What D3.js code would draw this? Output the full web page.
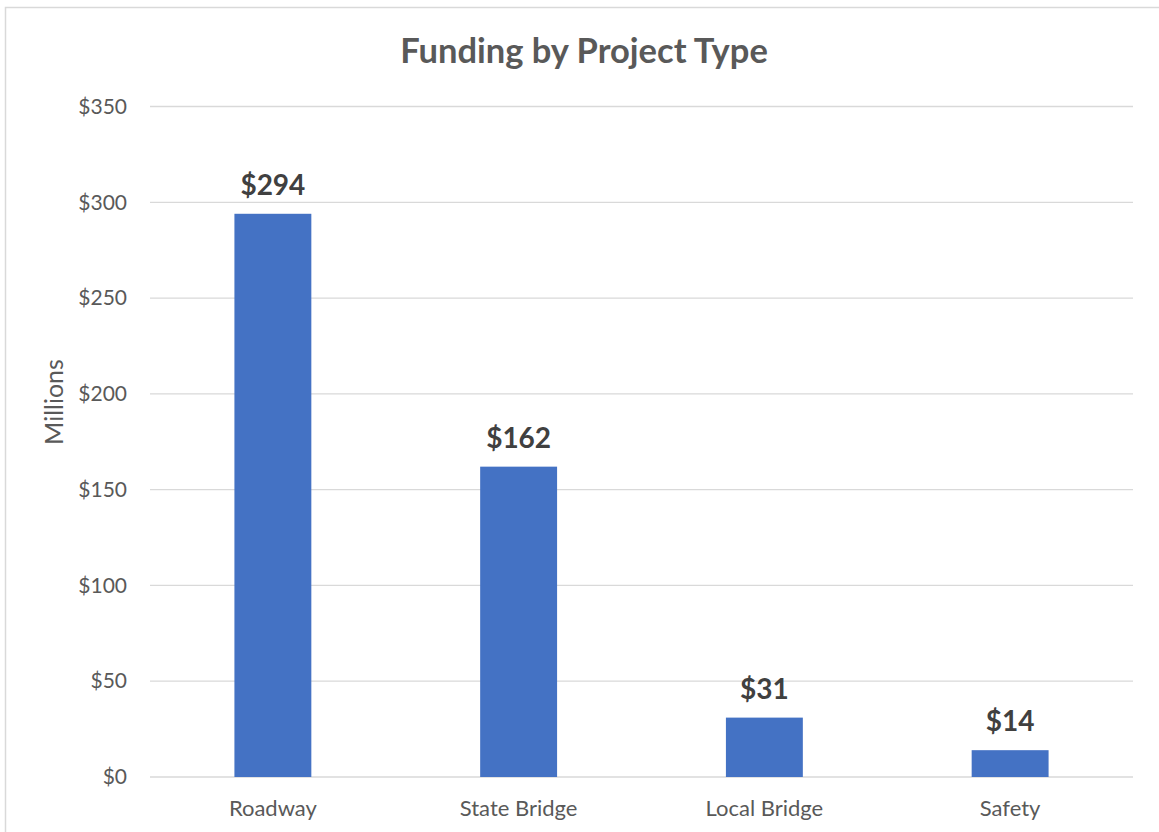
<!DOCTYPE html>
<html>
<head>
<meta charset="utf-8">
<script src="https://cdn.jsdelivr.net/npm/d3@7"></script>
<style>
  body { margin: 0; background: #fff; }
  text { font-family: Lato, "Open Sans", sans-serif; }
</style>
</head>
<body>
<svg width="1159" height="832"></svg>
<script>
const categories = ['Roadway', 'State Bridge', 'Local Bridge', 'Safety'];
const values = [294, 162, 31, 14];
const yTicks = [0, 50, 100, 150, 200, 250, 300, 350];

const svg = d3.select('svg');
const width = +svg.attr('width');
const height = +svg.attr('height');

const margin = {left: 150, right: 26, top: 106.5, bottom: 55};

// chart area border
svg.append('rect')
  .attr('x', 5.5).attr('y', 7.5)
  .attr('width', 1160).attr('height', 830)
  .attr('fill', 'none')
  .attr('stroke', '#d9d9d9')
  .attr('stroke-width', 1.5);

const x = d3.scaleBand()
  .domain(categories)
  .range([margin.left, width - margin.right])
  .paddingInner(0.687)
  .paddingOuter(0.687 / 2);

const y = d3.scaleLinear()
  .domain([0, 350])
  .range([height - margin.bottom, margin.top]);

// gridlines
svg.append('g')
  .selectAll('line')
  .data(yTicks)
  .join('line')
    .attr('x1', margin.left)
    .attr('x2', width - margin.right)
    .attr('y1', d => y(d))
    .attr('y2', d => y(d))
    .attr('stroke', '#d9d9d9')
    .attr('stroke-width', 1.3);

// y axis labels
const yAxis = d3.axisLeft(y)
  .tickValues(yTicks)
  .tickFormat(d => '$' + d)
  .tickSize(0)
  .tickPadding(23);

svg.append('g')
  .attr('transform', `translate(${margin.left},0)`)
  .call(yAxis)
  .call(g => g.select('.domain').remove())
  .selectAll('text')
    .attr('fill', '#595959')
    .style('font-size', '21px');

// x axis labels
const xAxis = d3.axisBottom(x).tickSize(0).tickPadding(23);
svg.append('g')
  .attr('transform', `translate(0,${height - margin.bottom})`)
  .call(xAxis)
  .call(g => g.select('.domain').remove())
  .selectAll('text')
    .attr('fill', '#595959')
    .style('font-size', '22px');

// bars
svg.append('g')
  .selectAll('rect')
  .data(values)
  .join('rect')
    .attr('x', (d, i) => x(categories[i]))
    .attr('y', d => y(d))
    .attr('width', x.bandwidth())
    .attr('height', d => y(0) - y(d))
    .attr('fill', '#4472c4');

// data labels
svg.append('g')
  .selectAll('text')
  .data(values)
  .join('text')
    .attr('x', (d, i) => x(categories[i]) + x.bandwidth() / 2)
    .attr('y', d => y(d) - 19)
    .attr('text-anchor', 'middle')
    .attr('fill', '#404040')
    .style('font-size', '28px')
    .style('font-weight', 'bold')
    .text(d => '$' + d);

// title
svg.append('text')
  .attr('x', 584)
  .attr('y', 63)
  .attr('text-anchor', 'middle')
  .attr('fill', '#595959')
  .style('font-size', '34.5px')
  .style('font-weight', 'bold')
  .text('Funding by Project Type');

// y axis title
svg.append('text')
  .attr('transform', 'translate(63,402) rotate(-90)')
  .attr('text-anchor', 'middle')
  .attr('fill', '#595959')
  .style('font-size', '25px')
  .text('Millions');
</script>
</body>
</html>
